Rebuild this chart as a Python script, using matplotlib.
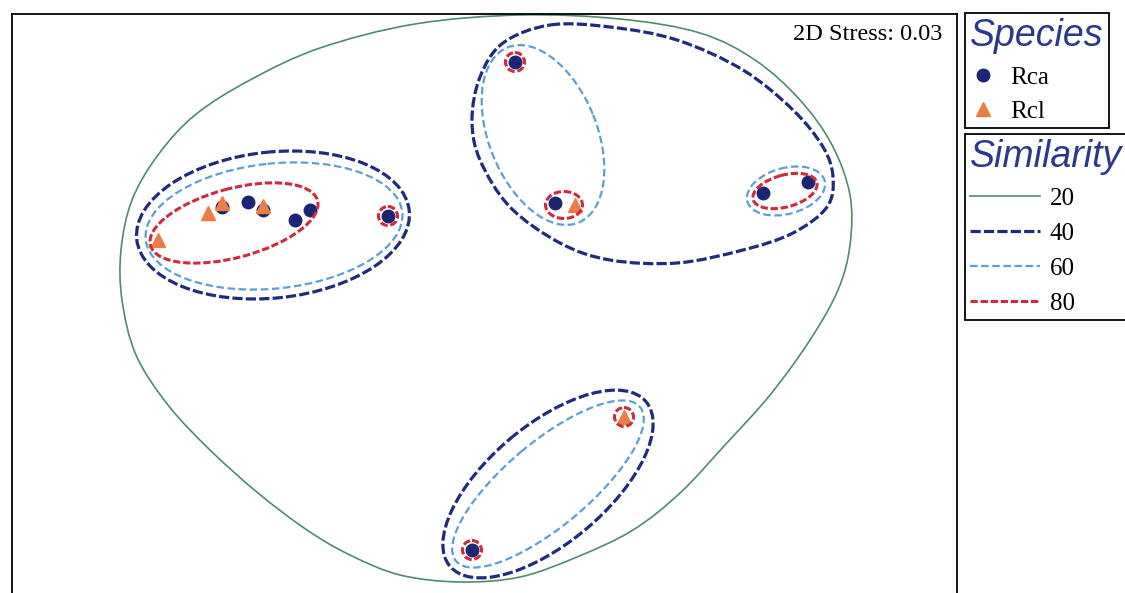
import numpy as np
import matplotlib
matplotlib.use("Agg")
import matplotlib.pyplot as plt
from matplotlib.patches import Ellipse, PathPatch
from matplotlib.path import Path
from matplotlib.lines import Line2D

# nMDS positions (plot units, y grows downward)
rca_x = [222, 248, 263, 295, 310, 388, 515, 555, 763, 808, 472]
rca_y = [207, 202, 210, 220, 210, 216, 62, 203, 193, 182, 550]
rcl_x = [158, 208, 222, 263, 575, 624]
rcl_y = [240, 213, 203, 206, 205, 417]

# similarity contours drawn as ellipses: (cx, cy, width, height, angle)
sim40_ell = [(273, 225, 274, 146, -6), (548, 484, 256, 118, -40)]
sim60_ell = [(274, 226, 258, 125, -6), (543, 135, 189, 108, 68),
             (786, 191, 80, 46, -15), (548, 484, 240, 84, -40)]
sim80_ell = [(234, 223, 173, 69, -15), (564, 205, 37, 27, 0), (785, 191, 66, 32, -15),
             (388, 216, 19, 19, 0), (515, 62, 19, 19, 0), (472, 550, 19, 19, 0),
             (624, 417, 19, 19, 0)]

# irregular contours: outline points of the 20% hull and the big 40% group
sim20_x = [520, 620, 700, 755, 800, 832, 850, 850, 838, 810, 770, 725, 680, 633, 577,
           520, 460, 400, 350, 307, 258, 210, 168, 136, 122, 121, 132, 158, 195, 250, 320, 415]
sim20_y = [15, 19, 33, 60, 100, 145, 195, 245, 290, 340, 395, 445, 493, 530, 557,
           577, 582, 575, 555, 530, 493, 450, 405, 355, 300, 250, 200, 155, 115, 80, 48, 24]
grp40_x = [550, 610, 677, 743, 793, 823, 833, 827, 793, 743, 677, 610, 560, 510, 480, 472, 480, 503]
grp40_y = [25, 27, 40, 70, 110, 147, 177, 207, 233, 250, 263, 260, 243, 207, 160, 120, 77, 43]

levels = ["20", "40", "60", "80"]
species = ["Rca", "Rcl"]

C_RCA = "#1c2573"
C_RCL = "#ec7d45"
C20 = "#4f8c6c"
C40 = "#1f2b7c"
C60 = "#5b9fd8"
C80 = "#d12a3a"
TITLE_C = "#2b3890"

ST40 = dict(edgecolor=C40, lw=2.3, ls=(0, (3.2, 1.0)))
ST60 = dict(edgecolor=C60, lw=1.6, ls=(0, (3.4, 1.6)))
ST80 = dict(edgecolor=C80, lw=2.2, ls=(0, (2.4, 0.9)))


def smooth_closed(xs, ys):
    # closed Catmull-Rom outline turned into cubic bezier segments
    p = np.column_stack([xs, ys]).astype(float)
    n = len(p)
    verts = [p[0]]
    codes = [Path.MOVETO]
    for i in range(n):
        p0, p1, p2, p3 = p[i - 1], p[i], p[(i + 1) % n], p[(i + 2) % n]
        verts += [p1 + (p2 - p0) / 6, p2 - (p3 - p1) / 6, p2]
        codes += [Path.CURVE4] * 3
    return Path(verts, codes)


fig = plt.figure(figsize=(11.25, 5.93), dpi=100)
ax = fig.add_axes([12 / 1125, 0, 945 / 1125, 579 / 593])
ax.set_xlim(12, 957)
ax.set_ylim(593, 14)
ax.set_xticks([])
ax.set_yticks([])
ax.spines["bottom"].set_visible(False)
for s in ["left", "top", "right"]:
    ax.spines[s].set_linewidth(1.3)

ax.add_patch(PathPatch(smooth_closed(sim20_x, sim20_y), fill=False, edgecolor=C20, lw=1.2))
ax.add_patch(PathPatch(smooth_closed(grp40_x, grp40_y), fill=False, **ST40))
for cx, cy, w, h, a in sim40_ell:
    ax.add_patch(Ellipse((cx, cy), w, h, angle=a, fill=False, **ST40))
for cx, cy, w, h, a in sim60_ell:
    ax.add_patch(Ellipse((cx, cy), w, h, angle=a, fill=False, **ST60))
for cx, cy, w, h, a in sim80_ell:
    ax.add_patch(Ellipse((cx, cy), w, h, angle=a, fill=False, zorder=4, **ST80))

ax.plot(rca_x, rca_y, "o", color=C_RCA, ms=9, ls="none", zorder=3)
ax.plot(rcl_x, rcl_y, "^", color=C_RCL, ms=10.5, ls="none", zorder=3)

ax.text(942, 34, "2D Stress: 0.03", ha="right", va="center",
        family="Liberation Serif", fontsize=17.5)

# legends
title_font = {"family": "Liberation Sans", "style": "italic", "size": 27}
sp_handles = [Line2D([], [], marker="o", color=C_RCA, ls="none", ms=9),
              Line2D([], [], marker="^", color=C_RCL, ls="none", ms=10.5)]
leg1 = fig.legend(sp_handles, species, title="Species", loc="upper left",
                  bbox_to_anchor=(965 / 1125, 1 - 13 / 593), bbox_transform=fig.transFigure,
                  prop={"family": "Liberation Serif", "size": 18},
                  title_fontproperties=title_font,
                  alignment="left", fancybox=False, edgecolor="black", framealpha=1,
                  borderaxespad=0, borderpad=0.2, handlelength=1.0, handletextpad=0.6,
                  labelspacing=0.48)
leg1.get_title().set_color(TITLE_C)
leg1.get_frame().set_linewidth(1.3)

sim_handles = [Line2D([], [], color=C20, lw=1.2),
               Line2D([], [], color=C40, lw=2.3, ls=(0, (3.2, 1.0))),
               Line2D([], [], color=C60, lw=1.6, ls=(0, (3.4, 1.6))),
               Line2D([], [], color=C80, lw=2.2, ls=(0, (2.4, 0.9)))]
leg2 = fig.legend(sim_handles, levels, title="Similarity", loc="upper left",
                  bbox_to_anchor=(965 / 1125, 1 - 134 / 593), bbox_transform=fig.transFigure,
                  prop={"family": "Liberation Serif", "size": 18},
                  title_fontproperties=title_font,
                  alignment="left", fancybox=False, edgecolor="black", framealpha=1,
                  borderaxespad=0, borderpad=0.2, handlelength=2.8, handletextpad=0.4,
                  labelspacing=0.5)
leg2.get_title().set_color(TITLE_C)
leg2.get_frame().set_linewidth(1.3)

fig.savefig("out.png", dpi=100)
